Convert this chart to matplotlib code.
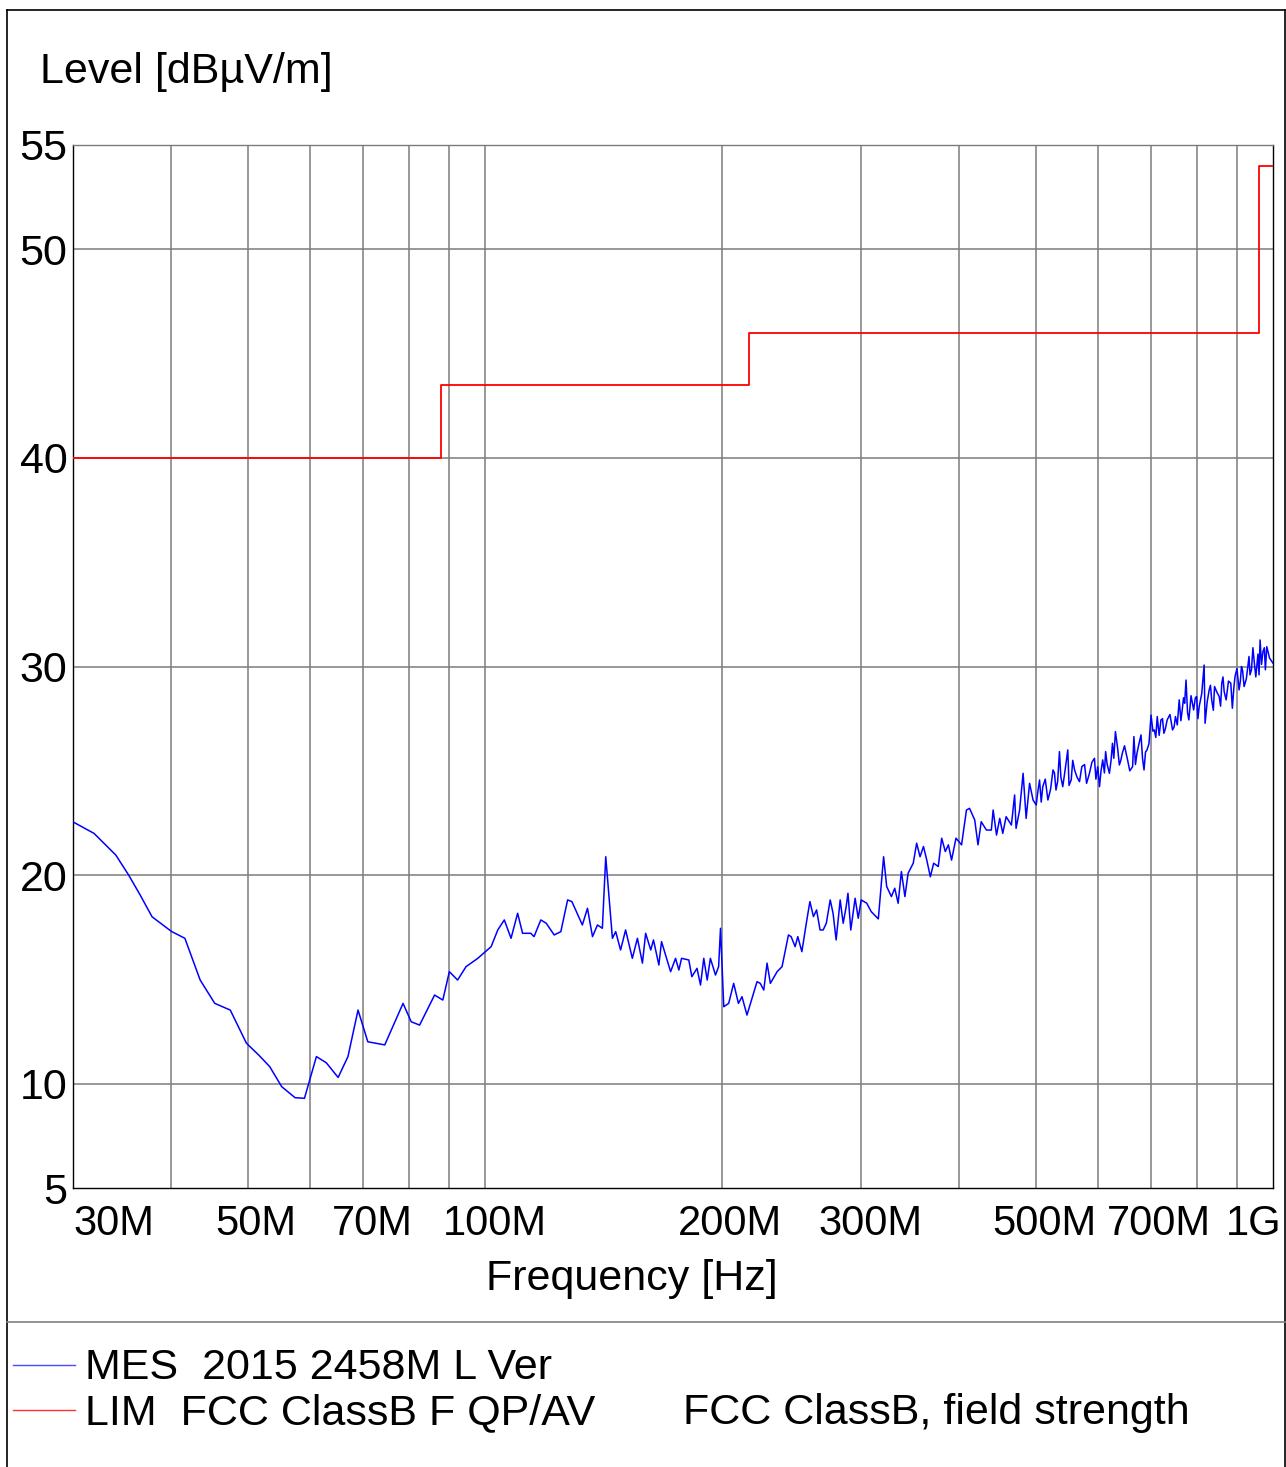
import matplotlib
matplotlib.use("Agg")
import matplotlib.pyplot as plt
from matplotlib.lines import Line2D
from matplotlib import transforms

plt.rcParams['font.family'] = ['Liberation Sans', 'DejaVu Sans']

# ---- data (frequency in MHz, level in dBuV/m) ----
mes_freq = [
    30.0, 31.9, 34.0, 35.3, 36.5, 37.8, 40.0, 41.6, 43.5, 45.4,
    47.5, 49.8, 51.6, 53.3, 55.2, 57.4, 59.0, 61.1, 62.9, 65.1,
    67.0, 69.0, 71.0, 74.6, 78.7, 80.6, 82.6, 86.3, 88.4, 90.1,
    92.3, 94.6, 97.9, 101.8, 103.8, 105.8, 107.9, 110.0, 111.6, 114.3,
    115.4, 117.7, 119.6, 122.4, 124.8, 127.3, 128.9, 132.9, 134.9, 136.9,
    138.9, 140.9, 142.3, 145.1, 146.5, 148.6, 150.8, 153.8, 156.1, 158.4,
    159.9, 162.3, 163.6, 166.2, 167.5, 172.0, 174.5, 176.2, 177.6, 181.4,
    183.0, 185.8, 187.7, 189.5, 191.4, 193.2, 196.1, 197.9, 199.0, 200.9,
    203.8, 206.8, 209.7, 211.9, 215.0, 217.2, 221.4, 223.5, 225.8, 228.0,
    230.2, 234.8, 238.2, 242.7, 244.6, 247.5, 249.4, 252.4, 256.1, 258.4,
    261.1, 263.5, 266.2, 268.6, 271.1, 274.2, 276.5, 279.0, 282.3, 284.8,
    287.3, 288.8, 291.2, 294.9, 297.6, 300.2, 305.1, 309.1, 315.6, 320.5,
    323.4, 327.9, 331.1, 334.4, 337.6, 341.1, 344.3, 349.5, 353.0, 356.5,
    360.1, 363.6, 367.4, 371.0, 376.0, 379.8, 383.8, 387.3, 390.9, 396.0,
    402.5, 408.3, 412.0, 418.3, 422.3, 426.3, 432.8, 439.1, 441.4, 445.8,
    450.0, 454.0, 458.5, 465.6, 470.0, 472.0, 476.9, 481.8, 486.1, 491.0,
    496.0,
    500.6, 503.0, 505.5, 508.0, 510.3, 514.0, 518.0, 522.0, 525.8, 528.0,
    530.4, 533.0, 535.8, 538.0, 541.0, 545.0, 549.0, 551.0, 554.5, 557.0,
    560.0, 564.0, 568.1, 572.0, 576.6, 580.0, 584.9, 589.0, 593.5, 596.0,
    599.2, 602.3, 605.0, 608.0, 611.0, 613.2, 616.0, 620.0, 623.0, 625.6,
    628.0, 631.0, 635.0, 638.3, 641.0, 643.8, 648.0, 653.8, 658.0, 663.5,
    666.0, 669.0, 672.0, 676.0, 680.0, 683.0, 686.0, 689.0, 692.0, 696.0,
    700.2, 704.0, 707.0, 710.0, 713.0, 717.0, 720.8, 724.0, 727.0, 730.0,
    734.0, 740.0, 745.6, 749.0, 752.0, 756.0, 760.3, 764.0, 767.0, 770.0,
    772.5, 775.6, 779.0, 782.0, 787.0, 793.0, 797.0, 800.0, 803.0, 806.0,
    812.0, 817.7, 820.0, 825.0, 829.9, 833.0, 836.0, 840.0, 843.0, 848.0,
    854.5, 858.0, 861.0, 864.0, 867.0, 872.0, 878.0, 884.0, 888.0, 892.0,
    895.0, 900.0, 905.7, 909.0, 912.0, 915.0, 919.0, 925.0, 932.3, 935.0,
    939.0, 943.0, 947.0, 951.0, 957.0, 960.0, 963.0, 967.0, 971.0, 975.0,
    978.0, 982.0, 990.0, 1000.0,
]
mes_level = [
    22.55, 22.0, 20.96, 20.0, 19.05, 18.0, 17.3, 16.97, 14.97, 13.85,
    13.53, 11.94, 11.38, 10.82, 9.86, 9.33, 9.3, 11.3, 11.0, 10.3,
    11.3, 13.53, 12.01, 11.86, 13.85, 12.97, 12.81, 14.25, 14.01, 15.37,
    14.97, 15.61, 16.01, 16.57, 17.37, 17.85, 16.97, 18.17, 17.21, 17.21,
    17.05, 17.85, 17.69, 17.13, 17.29, 18.81, 18.73, 17.61, 18.41, 17.05,
    17.61, 17.45, 20.88, 16.97, 17.29, 16.41, 17.37, 16.01, 16.97, 15.78,
    17.21, 16.41, 16.89, 15.69, 16.81, 15.37, 16.01, 15.45, 16.01, 15.93,
    15.13, 15.53, 14.73, 16.01, 14.97, 16.01, 15.21, 15.61, 17.45, 13.69,
    13.85, 14.81, 13.85, 14.17, 13.29, 13.85, 14.89, 14.81, 14.49, 15.78,
    14.81, 15.37, 15.61, 17.13, 17.05, 16.57, 17.05, 16.33, 17.85, 18.73,
    18.01, 18.33, 17.37, 17.37, 17.69, 18.81, 18.17, 16.89, 18.81, 17.69,
    18.49, 19.13, 17.37, 18.89, 17.93, 18.81, 18.65, 18.25, 17.9, 20.88,
    19.45, 18.97, 19.37, 18.65, 20.17, 18.97, 20.09, 20.57, 21.53, 20.88,
    21.37, 20.72, 19.92, 20.57, 20.41, 21.77, 21.13, 21.45, 20.72, 21.77,
    21.45, 23.12, 23.2, 22.64, 21.45, 22.56, 22.16, 22.16, 23.12, 21.92,
    22.72, 22.0, 22.8, 22.4, 23.84, 22.24, 23.12, 24.88, 22.72, 24.4,
    23.6,
    23.36, 24.0, 24.56, 23.5, 24.24, 24.6, 23.6, 24.1, 25.04, 24.9,
    24.08, 24.5, 25.92, 24.7, 24.24, 25.1, 26.0, 24.3, 24.56, 25.5,
    25.04, 24.7, 24.48, 25.2, 25.3, 24.4, 24.88, 25.4, 25.6, 24.6,
    25.2, 24.24, 25.0, 25.52, 24.9, 25.92, 25.3, 24.88, 25.5, 26.32,
    25.6, 26.88, 26.1, 25.28, 25.5, 25.84, 26.2, 25.52, 25.0, 25.2,
    26.64, 25.3, 25.84, 26.3, 26.72, 25.6, 25.04, 25.9, 26.0, 26.3,
    27.67, 26.9, 26.96, 26.6, 27.6, 26.7, 27.44, 27.5, 26.8, 27.0,
    27.44, 27.7, 26.96, 27.1, 27.6, 27.2, 28.4, 27.4, 27.92, 28.5,
    28.24, 29.35, 27.8, 27.44, 28.6, 27.92, 28.5, 28.56, 27.5, 28.08,
    28.7, 30.07, 27.28, 28.3, 28.88, 29.1, 28.4, 27.9, 29.04, 28.8,
    28.56, 28.1, 29.2, 29.5, 28.8, 28.4, 29.3, 29.2, 28.0, 29.0,
    29.52, 29.9, 28.88, 29.3, 30.0, 29.8, 29.04, 29.4, 30.48, 29.6,
    29.84, 30.9, 30.16, 29.5, 30.6, 29.6, 31.27, 30.1, 30.71, 30.9,
    29.84, 30.95, 30.4, 30.16,
]
assert len(mes_freq) == len(mes_level)

# FCC class B limit (step edges)
lim_freq = [30, 88, 216, 960, 1000]
lim_level = [40, 43.5, 46, 54, 54]

grid_freq = [40, 50, 60, 70, 80, 90, 100, 200, 300, 400, 500, 600, 700, 800, 900]
grid_level = [10, 20, 30, 40, 50]
y_ticks = [5, 10, 20, 30, 40, 50, 55]
x_label_freq = [30, 50, 70, 100, 200, 300, 500, 700, 1000]
x_label_text = ['30M', '50M', '70M', '100M', '200M', '300M', '500M', '700M', '1G']
x_label_shift = [0, 8, 9, 10, 8, 9, 9, 8, 9]      # pixels
x_label_ha = ['left', 'center', 'center', 'center', 'center', 'center', 'center', 'center', 'right']

W, H = 1286, 1467
fig = plt.figure(figsize=(W / 100, H / 100), dpi=100)
ax = fig.add_axes([73 / W, 1 - 1188 / H, 1200 / W, 1043 / H])

ax.set_xscale('log')
ax.set_xlim(30, 1000)
ax.set_ylim(5, 55)

grid_kw = dict(color='#7c7c7c', lw=1.1, zorder=1)
for f in grid_freq:
    ax.axvline(f, **grid_kw)
for lv in grid_level:
    ax.axhline(lv, **grid_kw)

ax.plot(lim_freq, lim_level, drawstyle='steps-post', color='#ff0000', lw=1.3, zorder=3)
ax.plot(mes_freq, mes_level, color='#0000ff', lw=1.1, zorder=4)

ax.set_xticks([])
ax.set_xticks([], minor=True)
ax.set_yticks(y_ticks)
ax.set_yticklabels([str(v) for v in y_ticks], fontsize=31)
ax.tick_params(axis='y', length=0, pad=4)
for s in ax.spines.values():
    s.set_color('black')
    s.set_linewidth(1.0)
ax.spines['top'].set_color('#7c7c7c')

for f, t, dx, ha in zip(x_label_freq, x_label_text, x_label_shift, x_label_ha):
    trans = transforms.offset_copy(ax.get_xaxis_transform(), fig=fig, x=dx, y=0, units='dots')
    ax.text(f, -0.0345, t, transform=trans, ha=ha, va='center', fontsize=30)

fig.text(632 / W, 1 - 1279 / H, 'Frequency [Hz]', ha='center', va='center', fontsize=31)
fig.text(40 / W, 1 - 72 / H, 'Level [dBµV/m]', ha='left', va='center', fontsize=31)

# outer frame and legend separator
def fig_line(xs, ys, color='black', lw=1.0):
    fig.add_artist(Line2D([x / W for x in xs], [1 - y / H for y in ys],
                          transform=fig.transFigure, color=color, lw=lw))

fig_line([7, 7], [10, H], lw=1.2)
fig_line([7, W - 1], [10, 10], lw=1.2)
fig_line([W - 1, W - 1], [10, H], lw=1.2)
fig_line([7, W], [1322, 1322], color='#808080', lw=1.2)

# legend
fig_line([13, 75], [1365, 1365], color='#4a4aff', lw=1.0)
fig_line([13, 75], [1410, 1410], color='#ff3030', lw=1.0)
fig.text(85 / W, 1 - 1368 / H, 'MES  2015 2458M L Ver', ha='left', va='center', fontsize=31)
fig.text(85 / W, 1 - 1413 / H, 'LIM  FCC ClassB F QP/AV', ha='left', va='center', fontsize=31)
fig.text(683 / W, 1 - 1413 / H, 'FCC ClassB, field strength', ha='left', va='center', fontsize=31)

fig.savefig('out.png', dpi=100)
